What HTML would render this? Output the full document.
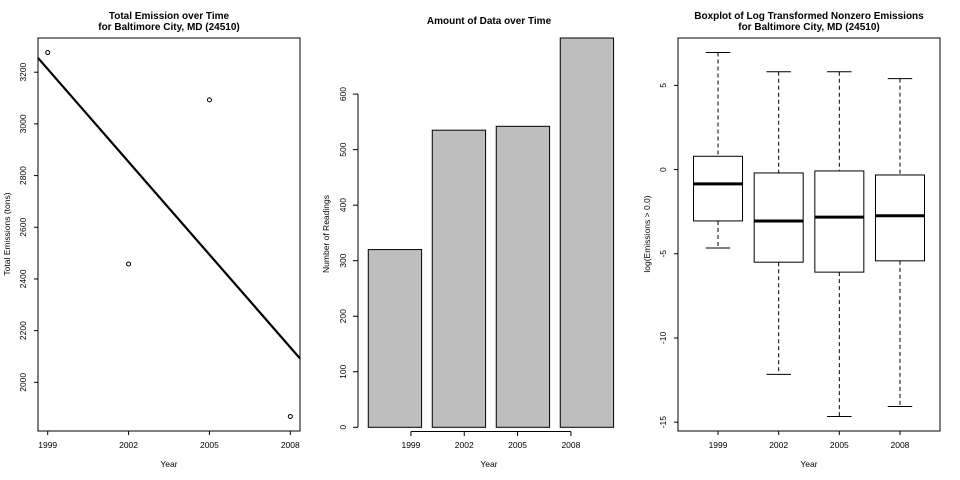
<!DOCTYPE html>
<html><head><meta charset="utf-8"><style>
html,body{margin:0;padding:0;background:#fff}
svg{display:block;font-family:"Liberation Sans",Arial,sans-serif}
.t{font-size:10px;font-weight:bold;text-anchor:middle}
.k{font-size:8.5px;text-anchor:middle}
</style></head><body>
<svg id="c" width="960" height="480" viewBox="0 0 960 480">
<g>
<text class="t" x="169" y="19">Total Emission over Time</text>
<text class="t" x="169" y="30">for Baltimore City, MD (24510)</text>
<rect x="38" y="38" width="262" height="393" fill="none" stroke="#000"/>
<g id="L"></g>
<text class="k" x="169" y="467">Year</text>
<text class="k" transform="translate(10,234) rotate(-90)">Total Emissions (tons)</text>
</g>
<g>
<text class="t" x="489" y="24">Amount of Data over Time</text>
<g id="M"></g>
<text class="k" x="489" y="467">Year</text>
<text class="k" transform="translate(329,234) rotate(-90)">Number of Readings</text>
</g>
<g>
<text class="t" x="809" y="19">Boxplot of Log Transformed Nonzero Emissions</text>
<text class="t" x="809" y="30">for Baltimore City, MD (24510)</text>
<rect x="678" y="38" width="262" height="393" fill="none" stroke="#000"/>
<g id="R"></g>
<text class="k" x="809" y="467">Year</text>
<text class="k" transform="translate(650,234) rotate(-90)">log(Emissions &gt; 0.0)</text>
</g>
</svg>
<script>
var NS="http://www.w3.org/2000/svg";
var years=[1999,2002,2005,2008];
var totalEmission=[3276,2458,3093,1868];
var yTicksLeft=[2000,2200,2400,2600,2800,3000,3200];
var readings=[320,535,542,701];
var yTicksMid=[0,100,200,300,400,500,600];
var boxUpper=[6.95,5.81,5.81,5.40];
var boxQ3=[0.79,-0.20,-0.08,-0.32];
var boxMedian=[-0.85,-3.05,-2.82,-2.74];
var boxQ1=[-3.05,-5.50,-6.09,-5.42];
var boxLower=[-4.66,-12.16,-14.66,-14.07];
var yTicksRight=[-15,-10,-5,0,5];

function mk(p,tag,a){var e=document.createElementNS(NS,tag);for(var k in a)e.setAttribute(k,a[k]);p.appendChild(e);return e;}
function ext(lo,hi){var d=(hi-lo)*0.04;return [lo-d,hi+d];}

(function(){
var g=document.getElementById('L');
var xr=ext(Math.min.apply(null,years),Math.max.apply(null,years));
var yr=ext(Math.min.apply(null,totalEmission),Math.max.apply(null,totalEmission));
function X(v){return 38+(v-xr[0])/(xr[1]-xr[0])*262;}
function Y(v){return 431-(v-yr[0])/(yr[1]-yr[0])*393;}
yTicksLeft.forEach(function(t){
 var l=mk(g,'line',{x1:38,x2:34,y1:Y(t),y2:Y(t),stroke:'#000'});
 
 
 var tx=mk(g,'text',{class:'k',transform:'translate(26,'+Y(t)+') rotate(-90)'});tx.textContent=t;
 
 
});
years.forEach(function(y){
 var l=mk(g,'line',{x1:X(y),x2:X(y),y1:431,y2:435,stroke:'#000'});
 
 
 var tx=mk(g,'text',{class:'k',x:X(y),y:448});tx.textContent=y;
 
 
});
var n=years.length,mx=0,my=0;years.forEach(function(v,i){mx+=v/n;my+=totalEmission[i]/n;});
var sxy=0,sxx=0;years.forEach(function(v,i){sxy+=(v-mx)*(totalEmission[i]-my);sxx+=(v-mx)*(v-mx);});
var b=sxy/sxx;function f(x){return my+b*(x-mx);}
var ln=mk(g,'line',{x1:X(xr[0]),y1:Y(f(xr[0])),x2:X(xr[1]),y2:Y(f(xr[1])),stroke:'#000','stroke-width':2.2});


years.forEach(function(y,i){
 var c=mk(g,'circle',{cx:X(y),cy:Y(totalEmission[i]),r:2,fill:'none',stroke:'#000'});
 
 
});
})();

(function(){
var g=document.getElementById('M');
var ymax=Math.max.apply(null,readings);
var unit=53.33,x0=357.6;
function Y(v){return 427.3-v/ymax*389.3;}
var ax=mk(g,'line',{x1:358,x2:358,y1:Y(0),y2:Y(600),stroke:'#000'});


yTicksMid.forEach(function(t){
 var l=mk(g,'line',{x1:358,x2:353,y1:Y(t),y2:Y(t),stroke:'#000'});
 
 
 var tx=mk(g,'text',{class:'k',transform:'translate(346,'+Y(t)+') rotate(-90)'});tx.textContent=t;
 
 
});
readings.forEach(function(v,i){
 var left=x0+unit*(0.2+i*1.2);
 var top=Math.max(Y(v),38);
 var r=mk(g,'rect',{x:left,y:top,width:unit,height:Y(0)-top,fill:'#bebebe',stroke:'#000'});
 
 
});
var xa=mk(g,'line',{x1:x0+unit,x2:x0+unit*4,y1:431.5,y2:431.5,stroke:'#000'});


years.forEach(function(y,i){
 var x=x0+unit*(i+1);
 var l=mk(g,'line',{x1:x,x2:x,y1:431.5,y2:436,stroke:'#000'});
 
 
 var tx=mk(g,'text',{class:'k',x:x,y:448});tx.textContent=y;
 
 
});
})();

(function(){
var g=document.getElementById('R');
var yr=ext(Math.min.apply(null,boxLower),Math.max.apply(null,boxUpper));
function Y(v){return 431-(v-yr[0])/(yr[1]-yr[0])*393;}
var xr=ext(0.5,years.length+0.5);
function X(i){return 678+(i+1-xr[0])/(xr[1]-xr[0])*262;}
var hw=24.5;
yTicksRight.forEach(function(t){
 var l=mk(g,'line',{x1:678,x2:674,y1:Y(t),y2:Y(t),stroke:'#000'});
 
 
 var tx=mk(g,'text',{class:'k',transform:'translate(666,'+Y(t)+') rotate(-90)'});tx.textContent=t;
 
 
});
years.forEach(function(y,i){
 var x=X(i);
 var bx=mk(g,'g',{});
 
 
 mk(bx,'line',{x1:x,x2:x,y1:Y(boxUpper[i]),y2:Y(boxQ3[i]),stroke:'#000','stroke-dasharray':'4,3'});
 mk(bx,'line',{x1:x,x2:x,y1:Y(boxQ1[i]),y2:Y(boxLower[i]),stroke:'#000','stroke-dasharray':'4,3'});
 mk(bx,'line',{x1:x-hw/2,x2:x+hw/2,y1:Y(boxUpper[i]),y2:Y(boxUpper[i]),stroke:'#000'});
 mk(bx,'line',{x1:x-hw/2,x2:x+hw/2,y1:Y(boxLower[i]),y2:Y(boxLower[i]),stroke:'#000'});
 mk(bx,'rect',{x:x-hw,y:Y(boxQ3[i]),width:hw*2,height:Y(boxQ1[i])-Y(boxQ3[i]),fill:'#fff',stroke:'#000'});
 mk(bx,'line',{x1:x-hw,x2:x+hw,y1:Y(boxMedian[i]),y2:Y(boxMedian[i]),stroke:'#000','stroke-width':3});
 var l=mk(g,'line',{x1:x,x2:x,y1:431,y2:435,stroke:'#000'});
 
 
 var tx=mk(g,'text',{class:'k',x:x,y:448});tx.textContent=y;
 
 
});
})();
</script>
</body></html>
